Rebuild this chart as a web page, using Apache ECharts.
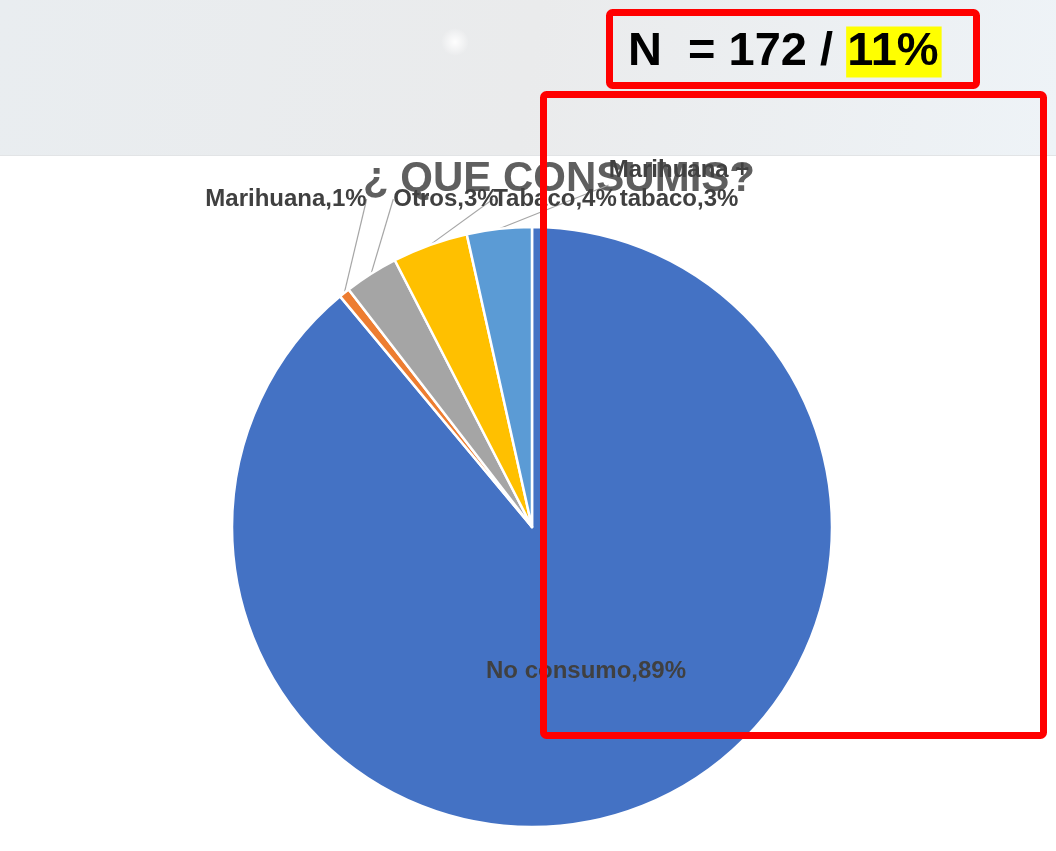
<!DOCTYPE html>
<html>
<head>
<meta charset="utf-8">
<script src="https://cdn.jsdelivr.net/npm/echarts@6/dist/echarts.min.js"></script>
<style>
html,body{margin:0;padding:0;background:#fff;}
#chart{width:1056px;height:851px;}
</style>
</head>
<body>
<div id="chart"></div>
<script>
const categories = ['No consumo', 'Marihuana', 'Otros', 'Tabaco', 'Marihuana +\ntabaco'];
const values = [153, 1, 5, 7, 6];
const colors = ['#4472C4', '#ED7D31', '#A5A5A5', '#FFC000', '#5B9BD5'];
const titleText = '¿ QUE CONSUMIS?';
const sampleText = 'N  = 172 / ';
const shareText = '11%';

// label placement (layout, not data)
const labelSpots = [[586, 671], [286, 199], [446, 199], [555, 199], [679, 185]];

const chart = echarts.init(document.getElementById('chart'));
const font = 'Liberation Sans, Arial, sans-serif';

chart.setOption({
  animation: false,
  backgroundColor: '#ffffff',
  graphic: [
    { type: 'rect', z: -10, shape: { x: 0, y: 0, width: 1056, height: 156 },
      style: { fill: new echarts.graphic.LinearGradient(0, 0, 1, 1, [
        { offset: 0, color: '#e9edf0' }, { offset: 0.5, color: '#eaebec' }, { offset: 1, color: '#eef3f7' }]) } },
    { type: 'rect', z: -9, shape: { x: 0, y: 155, width: 1056, height: 1 }, style: { fill: '#e2e4e6' } },
    { type: 'circle', z: -8, shape: { cx: 455, cy: 42, r: 14 },
      style: { fill: new echarts.graphic.RadialGradient(0.5, 0.5, 0.5, [
        { offset: 0, color: 'rgba(255,255,255,0.95)' }, { offset: 1, color: 'rgba(255,255,255,0)' }]) } },
    { type: 'text', z: -5, x: 559, y: 158,
      style: { text: titleText, fill: '#5f5f5f', font: 'bold 42px ' + font, textAlign: 'center', textVerticalAlign: 'top' } },
    { type: 'text', z: 50, x: 628, y: 52,
      style: { text: '{a|' + sampleText + '}{b|' + shareText + '}', textVerticalAlign: 'middle',
        rich: {
          a: { fontFamily: font, fontWeight: 'bold', fontSize: 47, color: '#000', lineHeight: 51 },
          b: { fontFamily: font, fontWeight: 'bold', fontSize: 47, color: '#000', lineHeight: 51, backgroundColor: '#FFFF00', height: 51, padding: [0, 3, 0, 1] }
        } } },
    { type: 'rect', z: 60, shape: { x: 609.5, y: 12.5, width: 367, height: 73, r: 3 },
      style: { fill: 'none', stroke: '#FF0000', lineWidth: 7 } },
    { type: 'rect', z: 60, shape: { x: 543.5, y: 94.5, width: 500, height: 641, r: 3 },
      style: { fill: 'none', stroke: '#FF0000', lineWidth: 7 } }
  ],
  series: [{
    type: 'pie',
    z: 5,
    center: [532, 527],
    radius: 300,
    startAngle: 90,
    clockwise: true,
    avoidLabelOverlap: false,
    itemStyle: { borderColor: '#ffffff', borderWidth: 2.5 },
    label: {
      show: true,
      position: 'outside',
      formatter: p => p.name + ',' + Math.round(p.percent) + '%',
      color: '#404040',
      fontFamily: font,
      fontWeight: 'bold',
      fontSize: 24,
      lineHeight: 29,
      align: 'center'
    },
    labelLine: { show: true, length: 20, length2: 0, lineStyle: { color: '#A6A6A6', width: 1.2 } },
    labelLayout: function (params) {
      const s = labelSpots[params.dataIndex];
      return { x: s[0], y: s[1], align: 'center', verticalAlign: 'middle' };
    },
    data: categories.map((c, i) => ({
      name: c,
      value: values[i],
      itemStyle: { color: colors[i] },
      label: i === 0 ? { position: 'inside' } : undefined,
      labelLine: i === 0 ? { show: false } : undefined
    }))
  }]
});
</script>
</body>
</html>
